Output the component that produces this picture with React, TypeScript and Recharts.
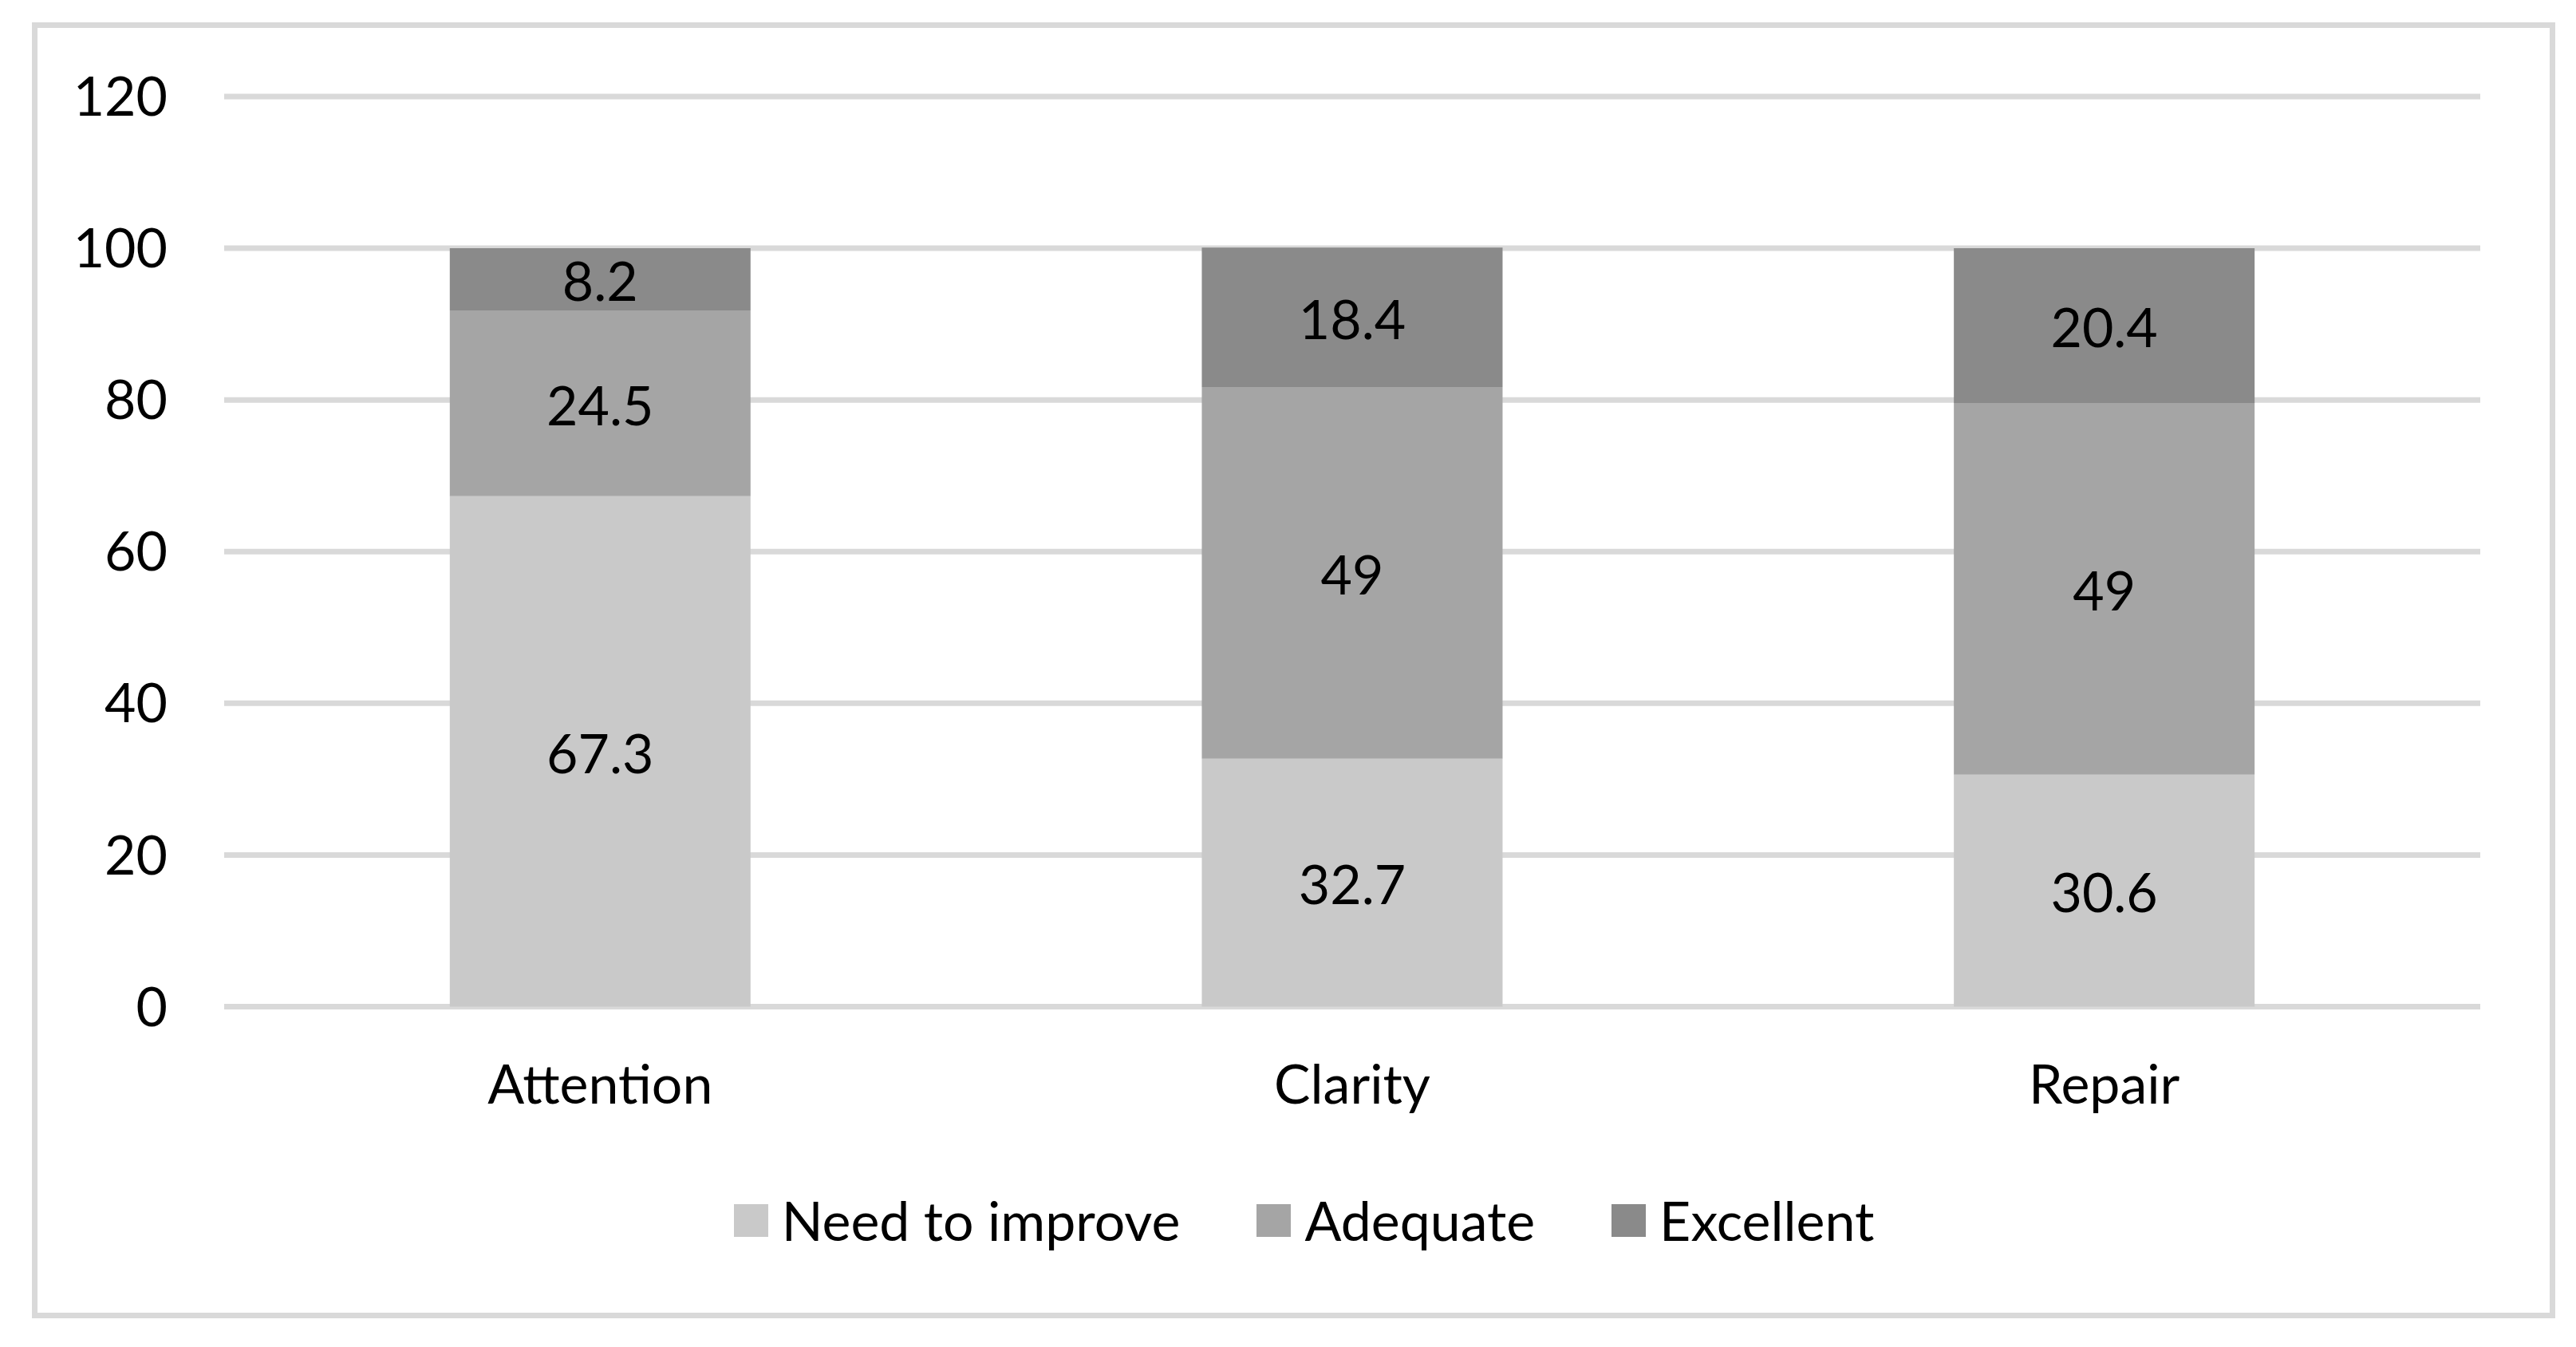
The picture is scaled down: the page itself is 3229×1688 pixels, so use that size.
import React from "react";
import { BarChart, Bar, XAxis, YAxis, CartesianGrid, Legend, LabelList } from "recharts";

const categories = ["Attention", "Clarity", "Repair"];
const needToImprove = [67.3, 32.7, 30.6];
const adequate = [24.5, 49, 49];
const excellent = [8.2, 18.4, 20.4];
const yTicks = [0, 20, 40, 60, 80, 100, 120];

const seriesDefs = [
  { key: "need", name: "Need to improve", color: "#c9c9c9", values: needToImprove },
  { key: "adequate", name: "Adequate", color: "#a5a5a5", values: adequate },
  { key: "excellent", name: "Excellent", color: "#8a8a8a", values: excellent },
];

const data = categories.map((c, i) => {
  const row: any = { category: c };
  seriesDefs.forEach((s) => (row[s.key] = s.values[i]));
  return row;
});

const FONT = "Lato, 'Open Sans', sans-serif";
const FS = 68;

const LegendContent = () => (
  <div
    style={{
      display: "flex",
      justifyContent: "center",
      alignItems: "center",
      height: 80,
      paddingLeft: 40,
      fontFamily: FONT,
      fontSize: FS,
      color: "#000",
    }}
  >
    {seriesDefs.map((s, i) => (
      <div key={s.key} style={{ display: "flex", alignItems: "center", marginLeft: i === 0 ? 0 : 96 }}>
        <div style={{ width: 43, height: 41, background: s.color, marginRight: 17 }} />
        <span style={{ lineHeight: 1 }}>{s.name}</span>
      </div>
    ))}
  </div>
);

export default function App() {
  return (
    <div style={{ position: "absolute", left: 0, top: 0, width: 3229, height: 1688, background: "#fff", fontFamily: FONT }}>
      <div
        style={{
          position: "absolute",
          left: 40,
          top: 28,
          width: 3163,
          height: 1624,
          border: "7px solid #d9d9d9",
          boxSizing: "border-box",
        }}
      />
      <div style={{ position: "absolute", left: 0, top: 0 }}>
        <BarChart
          width={3229}
          height={1688}
          data={data}
          margin={{ top: 121, right: 120, bottom: 326.5, left: 0 }}
          barCategoryGap="30%"
        >
          <CartesianGrid vertical={false} stroke="#d9d9d9" strokeWidth={7} />
          <XAxis
            dataKey="category"
            axisLine={false}
            tickLine={false}
            tickSize={0}
            tickMargin={73}
            height={100}
            tick={{ fill: "#000", fontSize: FS, fontFamily: FONT }}
          />
          <YAxis
            domain={[0, 120]}
            ticks={yTicks}
            axisLine={false}
            tickLine={false}
            tickSize={0}
            tickMargin={71}
            width={281}
            tick={{ fill: "#000", fontSize: FS, fontFamily: FONT }}
          />
          <Legend
            verticalAlign="middle"
            layout="horizontal"
            align="center"
            wrapperStyle={{ top: 1489, left: 0, width: 3229 }}
            content={() => <LegendContent />}
          />
          {seriesDefs.map((s) => (
            <Bar key={s.key} dataKey={s.key} name={s.name} stackId="a" fill={s.color} isAnimationActive={false}>
              <LabelList dataKey={s.key} position="center" fill="#000" fontSize={FS} fontFamily={FONT} dy={3} />
            </Bar>
          ))}
        </BarChart>
      </div>
    </div>
  );
}
